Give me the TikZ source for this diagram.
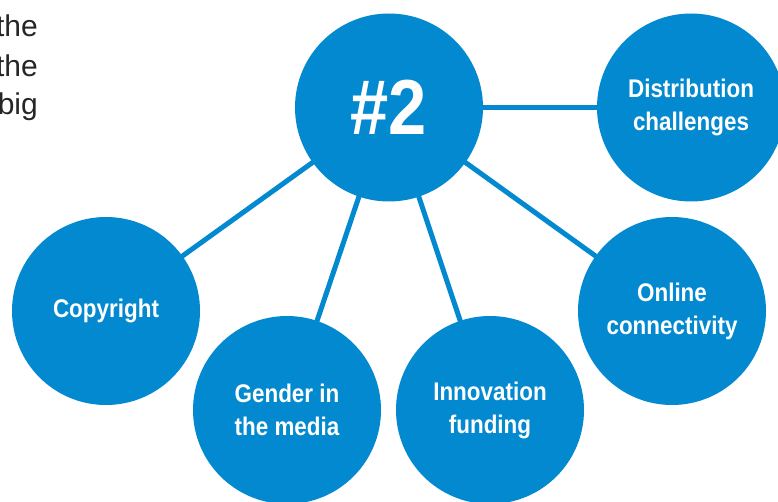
\documentclass[tikz,border=0pt]{standalone}
\usepackage{fontspec}
\setmainfont{Liberation Sans}
\newfontfamily\cond[FakeStretch=0.88]{Liberation Sans}
\usetikzlibrary{backgrounds}
\definecolor{hubblue}{RGB}{2,137,207}
\tikzset{
  bubble/.style={circle, fill=hubblue, draw=none, minimum size=188pt, inner sep=0pt,
    text=white, align=center, font=\cond\bfseries\fontsize{25.5}{33}\selectfont},
  link/.style={draw=hubblue, line width=5pt},
  side/.style={anchor=base east, font=\fontsize{30}{36}\selectfont, text=black!85, inner sep=0pt}
}
\begin{document}
\begin{tikzpicture}[x=1pt,y=1pt]
\useasboundingbox (0,0) rectangle (778,-502);
\node[side] (t1) at (38,-37) {the};
\node[side] (t2) at (38,-77) {the};
\node[side] (t3) at (38,-115) {big};
\node[bubble, font=\cond\bfseries\fontsize{78}{84}\selectfont] (hub) at (389,-107.5) {\#2};
\node[bubble] (dist) at (691,-107.5) {Distribution\\challenges};
\node[bubble] (copy) at (106,-311) {Copyright};
\node[bubble] (gend) at (287,-410) {Gender in\\the media};
\node[bubble] (inno) at (490,-410) {Innovation\\funding};
\node[bubble] (onli) at (672,-311) {Online\\connectivity};
\begin{scope}[on background layer]
\draw[link] (hub.center) -- (dist.center);
\draw[link] (hub.center) -- (copy.center);
\draw[link] (hub.center) -- (gend.center);
\draw[link] (hub.center) -- (inno.center);
\draw[link] (hub.center) -- (onli.center);
\end{scope}
\end{tikzpicture}
\end{document}
